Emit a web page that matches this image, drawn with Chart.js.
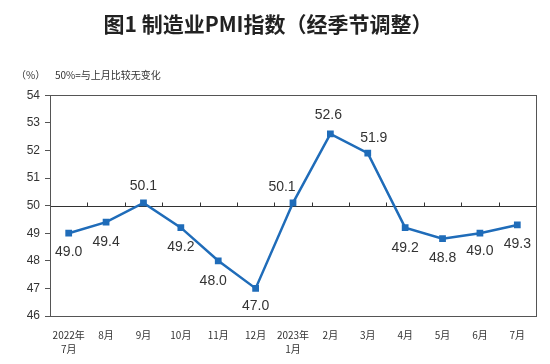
<!DOCTYPE html>
<html>
<head>
<meta charset="utf-8">
<script src="https://cdn.jsdelivr.net/npm/chart.js@4/dist/chart.umd.min.js"></script>
<style>
  html, body { margin: 0; padding: 0; background: #fff; }
  #wrap { width: 550px; height: 364px; }
</style>
</head>
<body>
<div id="wrap"><canvas id="myChart" width="550" height="364"></canvas></div>
<script>
const months = [
  ["2022年", "7月"], "8月", "9月", "10月", "11月", "12月",
  ["2023年", "1月"], "2月", "3月", "4月", "5月", "6月", "7月"
];
const pmi = [49.0, 49.4, 50.1, 49.2, 48.0, 47.0, 50.1, 52.6, 51.9, 49.2, 48.8, 49.0, 49.3];
const yTicks = [46, 47, 48, 49, 50, 51, 52, 53, 54];
const baseline = 50;

// where each value label sits relative to its point
const labelOffsets = [
  [0, 19], [0, 20], [0, -17], [0, 19], [-5, 20], [0, 18],
  [-11, -16], [-2, -19], [6, -15], [0, 20], [0, 19], [0, 18], [0, 19]
];

const lineColor = "#1f6cb9";
const frameColor = "#555";

const pmiExtras = {
  id: "pmiExtras",
  beforeDatasetsDraw(chart) {
    const { ctx, chartArea, scales } = chart;
    const x = scales.x;
    const y = scales.y;
    const y50 = Math.round(y.getPixelForValue(baseline)) + 0.5;
    ctx.save();
    ctx.strokeStyle = "#333";
    ctx.lineWidth = 1;
    ctx.beginPath();
    ctx.moveTo(chartArea.left, y50);
    ctx.lineTo(chartArea.right, y50);
    // small upward ticks between months
    const step = x.getPixelForValue(1) - x.getPixelForValue(0);
    for (let i = 0; i < months.length - 1; i++) {
      const px = Math.round(x.getPixelForValue(i) + step / 2) + 0.5;
      ctx.moveTo(px, y50);
      ctx.lineTo(px, y50 - 4);
    }
    ctx.stroke();
    // frame
    ctx.strokeStyle = frameColor;
    ctx.strokeRect(
      Math.round(chartArea.left) + 0.5,
      Math.round(chartArea.top) + 0.5,
      Math.round(chartArea.right - chartArea.left),
      Math.round(chartArea.bottom - chartArea.top)
    );
    ctx.restore();
  },
  afterDatasetsDraw(chart) {
    const { ctx } = chart;
    const meta = chart.getDatasetMeta(0);
    ctx.save();
    ctx.font = "14px 'Liberation Sans', Arial, sans-serif";
    ctx.fillStyle = "#333";
    ctx.textAlign = "center";
    ctx.textBaseline = "middle";
    meta.data.forEach((pt, i) => {
      const [dx, dy] = labelOffsets[i];
      ctx.fillText(pmi[i].toFixed(1), pt.x + dx, pt.y + dy);
    });
    // unit and note above the plot
    ctx.font = "10px 'Noto Sans CJK SC', sans-serif";
    ctx.textAlign = "left";
    ctx.fillStyle = "#333";
    ctx.fillText("（%）", 16, 75);
    ctx.fillText("50%=与上月比较无变化", 55, 75);
    ctx.restore();
  },
};

const ctx = document.getElementById("myChart").getContext("2d");
new Chart(ctx, {
  type: "line",
  data: {
    labels: months,
    datasets: [
      {
        data: pmi,
        borderColor: lineColor,
        backgroundColor: lineColor,
        borderWidth: 2.5,
        pointStyle: "rect",
        pointRadius: 3,
        tension: 0,
      },
    ],
  },
  options: {
    responsive: false,
    animation: false,
    layout: { padding: { left: 0, right: 14, top: 0, bottom: 0 } },
    plugins: {
      legend: { display: false },
      tooltip: { enabled: false },
      title: {
        display: true,
        text: "图1 制造业PMI指数（经季节调整）",
        color: "#222",
        font: { family: "'Noto Sans CJK SC', sans-serif", size: 21, weight: "bold", lineHeight: 1.2 },
        padding: { top: 11, bottom: 59 },
      },
    },
    scales: {
      x: {
        offset: true,
        afterFit: (scale) => { scale.height = 48; },
        grid: { display: false, drawTicks: false },
        border: { display: true, color: frameColor },
        ticks: {
          color: "#333",
          padding: 12,
          maxRotation: 0,
          autoSkip: false,
          font: { family: "'Noto Sans CJK SC', sans-serif", size: 10, lineHeight: 1.4 },
        },
      },
      y: {
        min: 46,
        max: 54,
        afterFit: (scale) => { scale.width = 50; },
        afterBuildTicks: (scale) => { scale.ticks = yTicks.map((v) => ({ value: v })); },
        grid: { drawOnChartArea: false, drawTicks: true, tickLength: 5, color: frameColor },
        border: { display: true, color: frameColor },
        ticks: {
          color: "#333",
          padding: 5,
          font: { family: "'Liberation Sans Narrow', 'Arial Narrow', sans-serif", size: 12 },
        },
      },
    },
  },
  plugins: [pmiExtras],
});
</script>
</body>
</html>
